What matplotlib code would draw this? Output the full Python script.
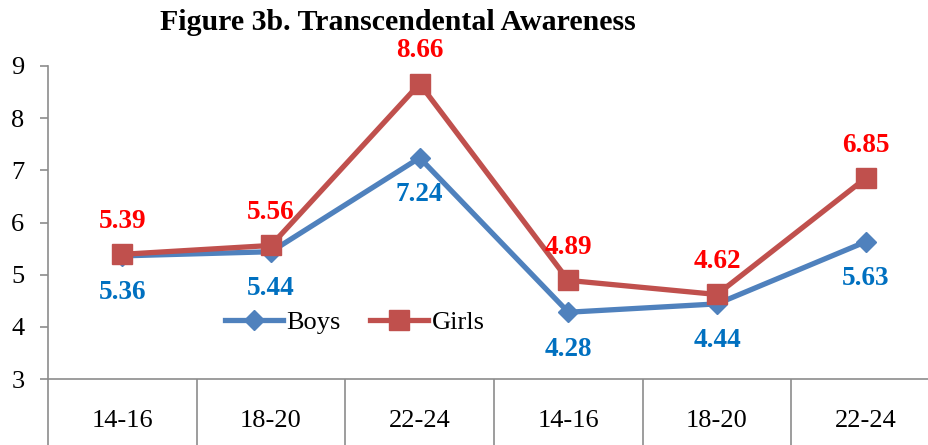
import matplotlib.pyplot as plt

categories = ['14-16', '18-20', '22-24', '14-16', '18-20', '22-24']
boys = [5.36, 5.44, 7.24, 4.28, 4.44, 5.63]
girls = [5.39, 5.56, 8.66, 4.89, 4.62, 6.85]

plt.rcParams['font.family'] = 'Liberation Serif'

fig = plt.figure(figsize=(9.29, 4.45), dpi=100)
ax = fig.add_axes([48 / 929, 66 / 445, 892 / 929, 313 / 445])

x = list(range(len(categories)))
ax.plot(x, boys, color='#4F81BD', lw=3.8, marker='D', ms=10,
        mfc='#4F81BD', mec='#4F81BD', label='Boys', zorder=3)
ax.plot(x, girls, color='#C0504D', lw=3.8, marker='s', ms=14.5,
        mfc='#C0504D', mec='#C0504D', label='Girls', zorder=3)

for xi, v in zip(x, boys):
    ax.annotate('%.2f' % v, (xi, v), xytext=(0, -37), textcoords='offset pixels',
                ha='center', va='center', color='#0070C0', fontsize=19.5,
                fontweight='bold')
for xi, v in zip(x, girls):
    ax.annotate('%.2f' % v, (xi, v), xytext=(0, 33), textcoords='offset pixels',
                ha='center', va='center', color='#FF0000', fontsize=19.5,
                fontweight='bold')

ax.set_xlim(-0.5, len(categories) - 0.5)
ax.set_ylim(3, 9)
ax.set_yticks(range(3, 10))
ax.set_xticks(x)
ax.set_xticklabels(categories)
ax.set_xticks([i - 0.5 for i in range(len(categories) + 1)], minor=True)
ax.tick_params(axis='x', which='major', length=0, labelsize=19, pad=22)
ax.tick_params(axis='x', which='minor', length=48, width=1.2, color='#8C8C8C',
               direction='out')
ax.tick_params(axis='y', length=6, width=1.2, color='#8C8C8C', labelsize=19, pad=11)

for s in ['top', 'right']:
    ax.spines[s].set_visible(False)
for s in ['left', 'bottom']:
    ax.spines[s].set_color('#8C8C8C')
    ax.spines[s].set_linewidth(1.2)

ax.legend(loc='center', bbox_to_anchor=(0.344, 0.182), ncol=2, frameon=False,
          fontsize=19, handlelength=2.2, handletextpad=0.15, columnspacing=1.1)

fig.text(398 / 929, 1 - 22 / 445, 'Figure 3b. Transcendental Awareness',
         ha='center', va='center', fontsize=21.5, fontweight='bold')

fig.savefig('out.png', dpi=100)
